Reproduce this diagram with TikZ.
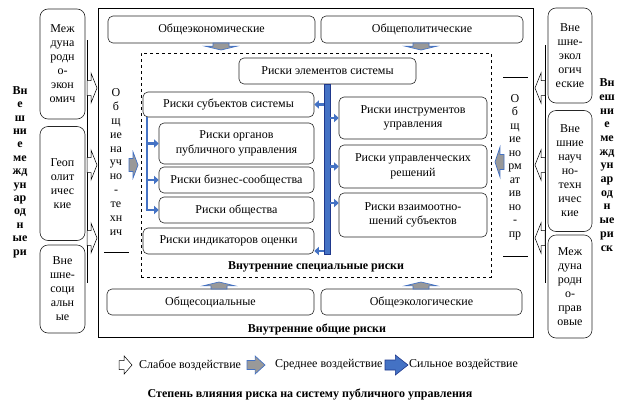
\documentclass[tikz,border=0pt]{standalone}
\usepackage{fontspec}
\setmainfont{Liberation Serif}
\usetikzlibrary{arrows.meta}
\definecolor{sblue}{RGB}{68,114,196}
\definecolor{dblue}{RGB}{31,56,140}
\tikzset{
 box/.style={draw=black!85, line width=0.6pt, rounded corners=5pt, align=center, inner sep=1pt, font=\fontsize{12}{14.5}\selectfont},
 nbox/.style={box, rounded corners=8pt, font=\fontsize{12}{14}\selectfont},
 lbl/.style={align=center, inner sep=0pt, font=\fontsize{12}{14.5}\selectfont},
 bstack/.style={align=center, inner sep=0pt, font=\bfseries\fontsize{12}{13}\selectfont},
 btitle/.style={inner sep=0pt, font=\bfseries\fontsize{12}{14}\selectfont},
 bluebranch/.style={draw=sblue, line width=2.6pt, -{Triangle[length=4.5pt,width=8pt]}},
 bluebar/.style={draw=dblue, fill=sblue, line width=0.5pt, inner sep=0pt},
 weakarrow/.pic={\path[draw=black,fill=white,line width=0.5pt] (0,-0.5)--(0.4,-0.5)--(0.4,-1)--(1,0)--(0.4,1)--(0.4,0.5)--(0,0.5)--cycle;},
 medarrow/.pic={\path[draw=sblue,fill=black!40,line width=0.7pt] (0,-0.5)--(0.45,-0.5)--(0.45,-1)--(1,0)--(0.45,1)--(0.45,0.5)--(0,0.5)--cycle;},
 strongarrow/.pic={\path[draw=dblue,fill=sblue,line width=0.6pt] (0,-0.5)--(0.45,-0.5)--(0.45,-1)--(1,0)--(0.45,1)--(0.45,0.5)--(0,0.5)--cycle;}
}
\begin{document}
\begin{tikzpicture}[x=1pt,y=-1pt]
\useasboundingbox (0,0) rectangle (628,415);
\fill[white] (0,0) rectangle (628,415);

% outer and dashed frames
\node[draw=black, line width=0.7pt, minimum width=435pt, minimum height=329pt, inner sep=0pt] (outer) at (315.5,172.5) {};
\node[draw=black, dashed, line width=0.9pt, minimum width=350pt, minimum height=224pt, inner sep=0pt] (inner) at (316,165) {};

% top and bottom boxes
\node[box, minimum width=207pt, minimum height=27pt] (ek) at (211.5,29.5) {Общеэкономические};
\node[box, minimum width=202pt, minimum height=27pt] (pol) at (422,29.5) {Общеполитические};
\node[box, minimum width=207pt, minimum height=26pt] (soc) at (210.5,302) {Общесоциальные};
\node[box, minimum width=201pt, minimum height=26pt] (eco) at (421.5,302) {Общеэкологические};

% inner boxes
\node[box, minimum width=177pt, minimum height=26pt] (el) at (327.5,71) {Риски элементов системы};
\node[box, minimum width=171pt, minimum height=25pt] (s1) at (228.5,104.5) {Риски субъектов системы};
\node[box, minimum width=155pt, minimum height=41pt] (b1) at (236.5,143.5) {Риски органов\\публичного управления};
\node[box, minimum width=155pt, minimum height=26pt] (b2) at (236.5,180) {Риски бизнес-сообщества};
\node[box, minimum width=155pt, minimum height=26pt] (b3) at (236.5,210) {Риски общества};
\node[box, minimum width=171pt, minimum height=26pt] (ind) at (228.5,241) {Риски индикаторов оценки};
\node[box, minimum width=148pt, minimum height=42pt] (r1) at (413,118) {Риски инструментов\\управления};
\node[box, minimum width=148pt, minimum height=43pt] (r2) at (413,166.5) {Риски управленческих\\решений};
\node[box, minimum width=148pt, minimum height=44pt] (r3) at (413,215) {Риски взаимоотно-\\шений субъектов};

% central bar and its arrows
\node[bluebar, minimum width=6pt, minimum height=170pt] (bar) at (327,169) {};
\coordinate (r3a) at ([yshift=12pt]r3.west);
\coordinate (inda) at ([yshift=-10pt]ind.east);
\draw[bluebranch] (bar.west |- s1.east) -- (s1.east);
\draw[bluebranch] (bar.east |- r1.west) -- (r1.west);
\draw[bluebranch] (bar.east |- r2.west) -- (r2.west);
\draw[bluebranch] (bar.east |- r3a) -- (r3a);
\draw[bluebranch] (bar.west |- inda) -- (inda);

% left blue branch line
\coordinate (ltop) at (147,117);
\draw[draw=sblue, line width=2.6pt] (ltop) -- (ltop |- b3.west);
\draw[bluebranch] (ltop |- b1.west) -- (b1.west);
\draw[bluebranch] (ltop |- b2.west) -- (b2.west);
\draw[bluebranch] ([xshift=-1.3pt]ltop |- b3.west) -- (b3.west);

% labels inside frames
\node[btitle] (tspec) at (316,267) {Внутренние специальные риски};
\node[btitle] (tgen) at (317,329) {Внутренние общие риски};

% inner side stacks
\node[lbl, font=\fontsize{12}{13.9}\selectfont] (ln) at (116,162) {О\\б\\щ\\ие\\на\\уч\\но\\-\\те\\хн\\ич};
\node[lbl, font=\fontsize{12}{13.5}\selectfont] (rn) at (515,167) {О\\б\\щ\\ие\\но\\рм\\ат\\ив\\но\\-\\пр};
\draw[line width=0.6pt] (104,252) -- (129,252);
\draw[line width=0.6pt] (503,77) -- (528,77);
\draw[line width=0.6pt] (503,256) -- (528,256);
\pic[xscale=9, yscale=13] at (129,165) {medarrow};
\pic[rotate=180, xscale=9, yscale=15] at (504,162) {medarrow};

% top / bottom small arrows
\pic[rotate=-90, xscale=7, yscale=16] at (221,43) {medarrow};
\pic[rotate=-90, xscale=7, yscale=16] at (421,43) {medarrow};
\pic[rotate=90, xscale=7, yscale=16] at (219,289) {medarrow};
\pic[rotate=90, xscale=7, yscale=16] at (421,289) {medarrow};

% left outer column
\node[nbox, minimum width=45pt, minimum height=110pt] (lb1) at (62.5,64) {Меж\\дуна\\родн\\о-\\экон\\омич};
\node[nbox, minimum width=45pt, minimum height=114pt] (lb2) at (62.5,183.5) {Геоп\\олит\\ичес\\кие};
\node[nbox, minimum width=45pt, minimum height=88pt] (lb3) at (62.5,289) {Вне\\шне-\\соци\\альн\\ые};
\node[bstack, font=\bfseries\fontsize{12}{13.4}\selectfont] (lt) at (20,172) {Вн\\е\\ш\\ни\\е\\ме\\жд\\ун\\ар\\од\\н\\ые\\ри};
\draw[line width=0.6pt] (87,40) -- (87,283);
\pic[xscale=10, yscale=15] at (87,88) {weakarrow};
\pic[xscale=10, yscale=15] at (87,165) {weakarrow};
\pic[xscale=10, yscale=15] at (87,238) {weakarrow};

% right outer column
\node[nbox, minimum width=44pt, minimum height=95pt] (rb1) at (570,55.5) {Вне\\шне-\\экол\\огич\\еские};
\node[nbox, minimum width=44pt, minimum height=121pt] (rb2) at (570,171) {Вне\\шние\\науч\\но-\\техн\\ичес\\кие};
\node[nbox, minimum width=44pt, minimum height=103pt] (rb3) at (570,286.5) {Меж\\дуна\\родн\\о-\\прав\\овые};
\node[bstack, font=\bfseries\fontsize{12}{13.7}\selectfont] (rt) at (607,165) {Вн\\еш\\ни\\е\\ме\\жд\\ун\\ар\\од\\н\\ые\\ри\\ск};
\draw[line width=0.6pt] (545,45) -- (545,283);
\pic[rotate=180, xscale=10, yscale=15] at (545,88) {weakarrow};
\pic[rotate=180, xscale=10, yscale=15] at (545,165) {weakarrow};
\pic[rotate=180, xscale=10, yscale=15] at (545,238) {weakarrow};

% legend
\pic[xscale=13, yscale=9] at (119,365) {weakarrow};
\node[lbl, anchor=west] (lg1) at (139,365) {Слабое воздействие};
\pic[xscale=18, yscale=9] at (247,365) {medarrow};
\node[lbl, anchor=west] (lg2) at (275,365) {Среднее воздействие};
\pic[xscale=23, yscale=10] at (385,365) {strongarrow};
\node[lbl, anchor=west] (lg3) at (409,365) {Сильное воздействие};
\node[btitle] (ttl) at (310,394) {Степень влияния риска на систему публичного управления};
\end{tikzpicture}
\end{document}
